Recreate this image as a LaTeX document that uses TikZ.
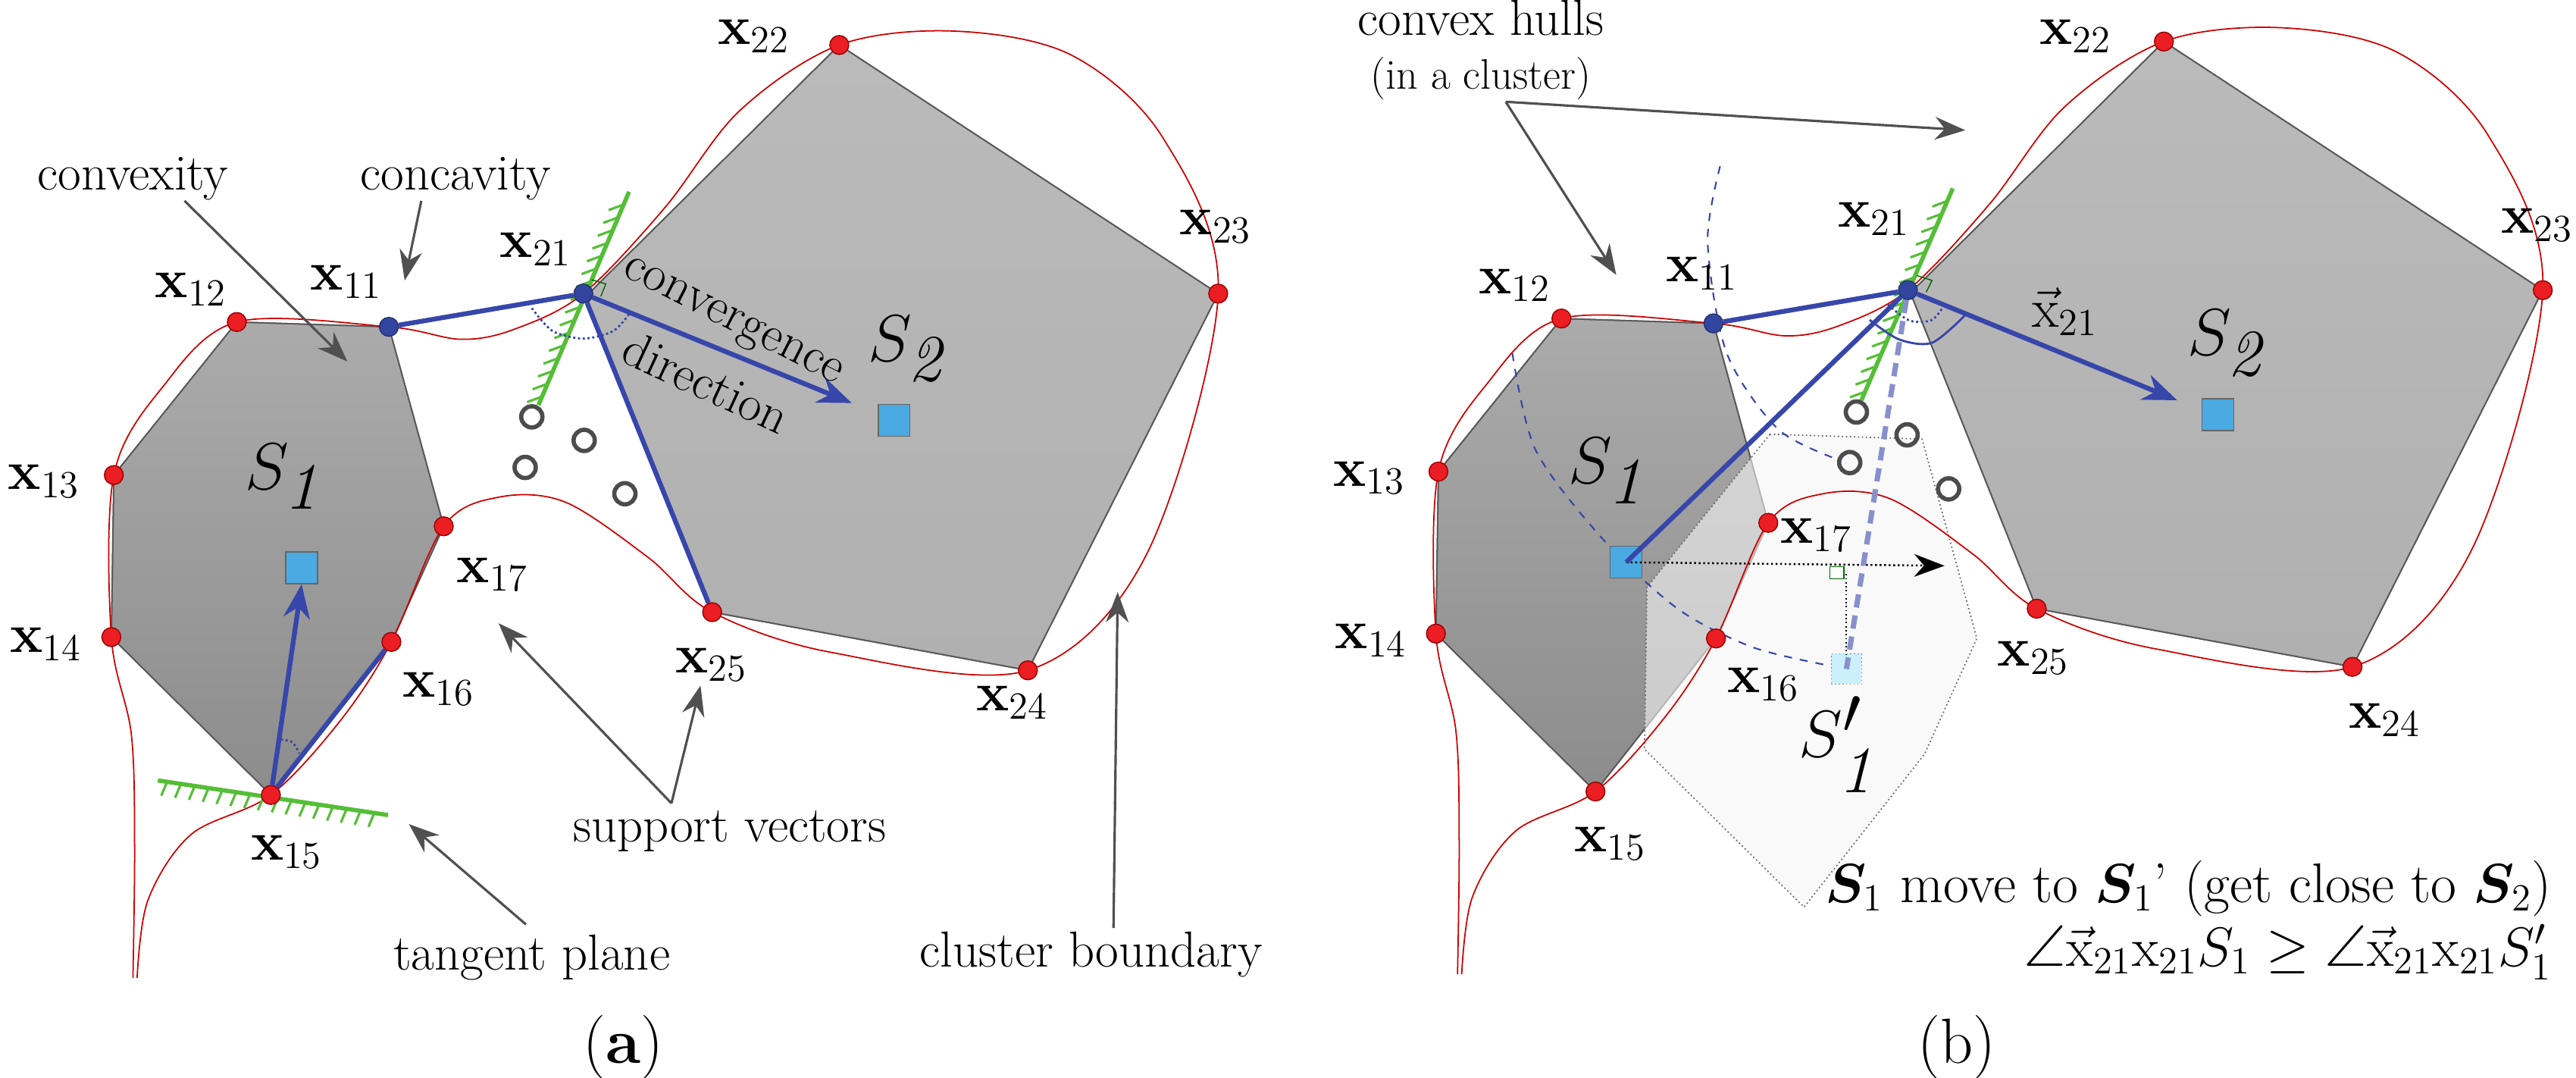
\documentclass[tikz,border=0pt]{standalone}
\usepackage{amsmath,amssymb,bm}
\usetikzlibrary{calc,arrows.meta}
\definecolor{ptred}{RGB}{235,30,35}
\definecolor{ptblue}{RGB}{50,70,160}
\definecolor{lblue}{RGB}{55,70,170}
\definecolor{tgreen}{RGB}{85,190,55}
\definecolor{sqblue}{RGB}{75,170,225}
\definecolor{agray}{RGB}{80,80,80}
\tikzset{
 rpt/.style={circle,fill=ptred,draw=red!60!black,line width=0.4pt,inner sep=0pt,minimum size=0.25cm},
 bpt/.style={circle,fill=ptblue,draw=ptblue!70!black,line width=0.4pt,inner sep=0pt,minimum size=0.25cm},
 sq/.style={rectangle,fill=sqblue,draw=black!60,line width=0.4pt,inner sep=0pt,minimum size=0.42cm},
 sv/.style={circle,draw=black!70,line width=1.6pt,inner sep=0pt,minimum size=0.28cm},
 lab/.style={font=\fontsize{22}{26}\selectfont},
 txt/.style={font=\fontsize{19}{22}\selectfont},
 big/.style={font=\fontsize{38}{42}\selectfont},
 ann/.style={draw=agray,line width=0.9pt,-{Stealth[length=0.4cm,width=0.3cm]}},
 bline/.style={draw=lblue,line width=1.8pt},
 barr/.style={draw=lblue,line width=1.8pt,-{Stealth[length=0.45cm,width=0.35cm]}},
 bnd/.style={draw=red!80!black,line width=0.5pt},
 tg/.style={draw=tgreen,line width=1.6pt},
 poly/.style={draw=black!65,line width=0.5pt},
}
\newcommand\cpolys{%
 \shade[poly,top color=black!33,bottom color=black!45] (285,465)--(468,472)--(534,760)--(471,927)--(326,1148)--(134,920)--(137,686)--cycle;
 \draw[poly] (285,465)--(468,472)--(534,760)--(471,927)--(326,1148)--(134,920)--(137,686)--cycle;
 \shade[poly,top color=black!27,bottom color=black!31] (705,428)--(1010,65)--(1466,424)--(1237,968)--(857,884)--cycle;
 \draw[poly] (705,428)--(1010,65)--(1466,424)--(1237,968)--(857,884)--cycle;}
\newcommand\ccurve{%
 \draw[bnd] plot[smooth,tension=0.55] coordinates {(165,1412)(178,1300)(230,1205)(326,1148)(410,1040)(471,927)(534,760)(600,718)(680,725)(780,805)(857,884)(1000,942)(1237,968)(1380,800)(1466,424)(1400,200)(1290,80)(1150,45)(1010,65)(890,160)(800,300)(702,424)(620,475)(555,490)(468,472)(285,465)(195,560)(137,686)(134,920)(158,1060)(162,1220)(160,1412)};}
\newcommand\cpts[1]{%
 \node[rpt] (#1x12) at (285,465) {};
 \node[bpt] (#1x11) at (468,472) {};
 \node[bpt] (#1x21) at (702,424) {};
 \node[rpt] (#1x22) at (1010,65) {};
 \node[rpt] (#1x23) at (1466,424) {};
 \node[rpt] (#1x24) at (1237,968) {};
 \node[rpt] (#1x25) at (857,884) {};
 \node[rpt] (#1x13) at (137,686) {};
 \node[rpt] (#1x14) at (134,920) {};
 \node[rpt] (#1x15) at (326,1148) {};
 \node[rpt] (#1x16) at (471,927) {};
 \node[rpt] (#1x17) at (534,760) {};}
\newcommand\hatchline[4]{% A B dx dy
 \draw[tg] (#1)--(#2);
 \foreach \t in {0.04,0.1,...,0.98} {\draw[draw=tgreen,line width=0.9pt] ($(#1)!\t!(#2)$) -- ++(#3,#4);}}
\begin{document}
\begin{tikzpicture}[x=0.010965cm,y=-0.00914cm]
\useasboundingbox (0,0) rectangle (3100,1556);
% ================= panel (a)
\begin{scope}
 \cpolys
 \ccurve
 \coordinate (ta1) at (648,585); \coordinate (ta2) at (757,277);
 \hatchline{ta1}{ta2}{-18}{8}
 \coordinate (tb1) at (190,1127); \coordinate (tb2) at (467,1177);
 \hatchline{tb1}{tb2}{-7}{20}
 \node[sq] (aS1) at (363,820) {};
 \node[sq] (aS2) at (1076,607) {};
 \node[sv] (ac1) at (640,602) {}; \node[sv] (ac2) at (703,636) {};
 \node[sv] (ac3) at (632,675) {}; \node[sv] (ac4) at (752,713) {};
 \cpts{a}
 \draw[bline] (ax11) -- (ax21);
 \draw[bline] (ax21) -- (ax25);
 \draw[bline] (ax15) -- (ax16);
 \coordinate (acd) at (1025,582);
 \draw[barr] (ax21) -- (acd);
 \draw[barr] (ax15) -- (aS1.south);
 \draw[densely dotted,draw=lblue,line width=0.8pt] plot[smooth] coordinates {(640,445)(665,478)(702,489)(738,478)(758,452)};
 \draw[densely dotted,draw=lblue,line width=0.8pt] plot[smooth] coordinates {(338,1068)(352,1072)(360,1088)};
 \draw[draw=black!60!green,line width=0.4pt] (712,404)--(729,410)--(723,428);
 \node[lab] (lx12) at (230,418) {$\mathbf{x}_{12}$};
 \node[lab] (lx11) at (417,407) {$\mathbf{x}_{11}$};
 \node[lab] (lx21) at (645,360) {$\mathbf{x}_{21}$};
 \node[lab] (lx22) at (907,52) {$\mathbf{x}_{22}$};
 \node[lab] (lx23) at (1463,327) {$\mathbf{x}_{23}$};
 \node[lab] (lx13) at (53,695) {$\mathbf{x}_{13}$};
 \node[lab] (lx14) at (55,930) {$\mathbf{x}_{14}$};
 \node[lab] (lx15) at (345,1230) {$\mathbf{x}_{15}$};
 \node[lab] (lx16) at (528,995) {$\mathbf{x}_{16}$};
 \node[lab] (lx17) at (593,830) {$\mathbf{x}_{17}$};
 \node[lab] (lx25) at (856,960) {$\mathbf{x}_{25}$};
 \node[lab] (lx24) at (1218,1015) {$\mathbf{x}_{24}$};
 \node[big] (lS1) at (345,688) {$S_{\mathit{1}}$};
 \node[big] (lS2) at (1095,503) {$S_{\mathit{2}}$};
 \node[txt,rotate=-27] (lcv) at (880,468) {convergence};
 \node[txt,rotate=-25] (ldir) at (850,552) {direction};
 \node[txt] (lconvex) at (160,258) {convexity};
 \node[txt] (lconcav) at (548,258) {concavity};
 \node[txt] (lsv) at (878,1200) {support vectors};
 \node[txt] (ltp) at (640,1383) {tangent plane};
 \node[txt] (lcb) at (1313,1378) {cluster boundary};
 \coordinate (c1) at (418,522); \coordinate (c2) at (487,405);
 \coordinate (c3) at (600,900); \coordinate (c4) at (843,990);
 \coordinate (c5) at (492,1190); \coordinate (c6) at (1345,855);
 \coordinate (sva) at (808,1160);
 \draw[ann] (222,290) -- (c1);
 \draw[ann] (507,290) -- (c2);
 \draw[ann] (sva) -- (c3);
 \draw[ann] (sva) -- (c4);
 \draw[ann] (633,1335) -- (c5);
 \draw[ann] (1340,1340) -- (c6);
\end{scope}
\node[txt,font=\fontsize{24}{28}\selectfont] (cap-a) at (750,1512) {(\textbf{a})};
% ================= panel (b)
\begin{scope}[shift={(1550,0)}]
 \begin{scope}[shift={(44,-5)}]
  \cpolys
  \filldraw[fill=black!4,fill opacity=0.6,draw=black!60,densely dotted,line width=0.5pt] (536,632)--(719,639)--(785,927)--(722,1094)--(577,1315)--(385,1087)--(388,853)--cycle;
  \ccurve
 \end{scope}
 \coordinate (tc1) at (690,578); \coordinate (tc2) at (800,272);
 \hatchline{tc1}{tc2}{-18}{8}
 \node[sv] (bc1) at (684,595) {}; \node[sv] (bc2) at (745,628) {};
 \node[sv] (bc3) at (676,668) {}; \node[sv] (bc4) at (795,706) {};
 \draw[dashed,draw=lblue,line width=0.6pt] plot[smooth] coordinates {(520,240)(505,350)(528,510)(590,620)(665,665)};
 \draw[dashed,draw=lblue,line width=0.6pt] plot[smooth] coordinates {(270,510)(298,650)(380,780)(470,880)(560,935)(655,962)};
 \node[sq] (bS2) at (1119,599) {};
 \node[sq,fill=cyan!20,draw=black!50,densely dotted,minimum size=0.4cm] (bS1p) at (672,966) {};
 \node[sq] (bS1) at (407,812) {};
 \begin{scope}[shift={(44,-5)}]
  \cpts{b}
 \end{scope}
 \coordinate (bra) at (790,817);
 \draw[densely dotted,line width=0.7pt,-{Stealth[length=0.4cm,width=0.3cm]}] (bS1.center) -- (bra);
 \draw[densely dotted,line width=0.5pt] (672,829) -- (bS1p.center);
 \draw[draw=black!60!green,line width=0.4pt,fill=white] (652,818) rectangle (669,836);
 \draw[bline] (bx11) -- (bx21);
 \draw[bline] (bx21) -- (bS1.center);
 \draw[draw=lblue!60!white,line width=2pt,dash pattern=on 5pt off 3pt] (bx21) -- (bS1p.center);
 \coordinate (bcd) at (1070,578);
 \draw[barr] (bx21) -- (bcd);
 \draw[draw=lblue,line width=0.8pt] plot[smooth] coordinates {(700,462)(735,490)(775,495)(815,455)};
 \draw[densely dotted,draw=lblue,line width=0.8pt] plot[smooth] coordinates {(722,440)(748,463)(775,462)(790,440)};
 \draw[draw=black!60!green,line width=0.4pt] (757,398)--(775,405)--(768,422);
 \node[lab] (mx12) at (273,412) {$\mathbf{x}_{12}$};
 \node[lab] (mx11) at (498,395) {$\mathbf{x}_{11}$};
 \node[lab] (mx21) at (705,316) {$\mathbf{x}_{21}$};
 \node[lab] (mx22) at (948,52) {$\mathbf{x}_{22}$};
 \node[lab] (mx23) at (1503,325) {$\mathbf{x}_{23}$};
 \node[lab] (mx13) at (98,690) {$\mathbf{x}_{13}$};
 \node[lab] (mx14) at (100,925) {$\mathbf{x}_{14}$};
 \node[lab] (mx15) at (388,1218) {$\mathbf{x}_{15}$};
 \node[lab] (mx16) at (572,988) {$\mathbf{x}_{16}$};
 \node[lab] (mx17) at (636,773) {$\mathbf{x}_{17}$};
 \node[lab] (mx25) at (897,950) {$\mathbf{x}_{25}$};
 \node[lab] (mx24) at (1320,1040) {$\mathbf{x}_{24}$};
 \node[lab] (mvec) at (935,450) {$\vec{\mathrm{x}}_{21}$};
 \node[big] (mS1) at (388,680) {$S_{\mathit{1}}$};
 \node[big] (mS2) at (1133,495) {$S_{\mathit{2}}$};
 \node[big] (mS1p) at (665,1075) {$S'_{\mathit{1}}$};
 \node[txt,align=center] (mhull) at (232,72) {convex hulls\\[-2pt]{\fontsize{16}{19}\selectfont (in a cluster)}};
 \coordinate (hs) at (262,147);
 \coordinate (h1) at (815,188); \coordinate (h2) at (395,397);
 \draw[ann] (hs) -- (h1);
 \draw[ann] (hs) -- (h2);
 \node[txt,anchor=east,font=\fontsize{21}{24}\selectfont] (mt1) at (1532,1283) {$\bm{S}_1$ move to $\bm{S}_1$' (get close to $\bm{S}_2$)};
 \node[txt,anchor=east,font=\fontsize{22}{26}\selectfont] (mt2) at (1532,1375) {$\angle\vec{\mathrm{x}}_{21}\mathrm{x}_{21}S_1 \geq \angle\vec{\mathrm{x}}_{21}\mathrm{x}_{21}S'_1$};
\end{scope}
\node[txt,font=\fontsize{24}{28}\selectfont] (cap-b) at (2355,1512) {(b)};
\end{tikzpicture}
\end{document}
